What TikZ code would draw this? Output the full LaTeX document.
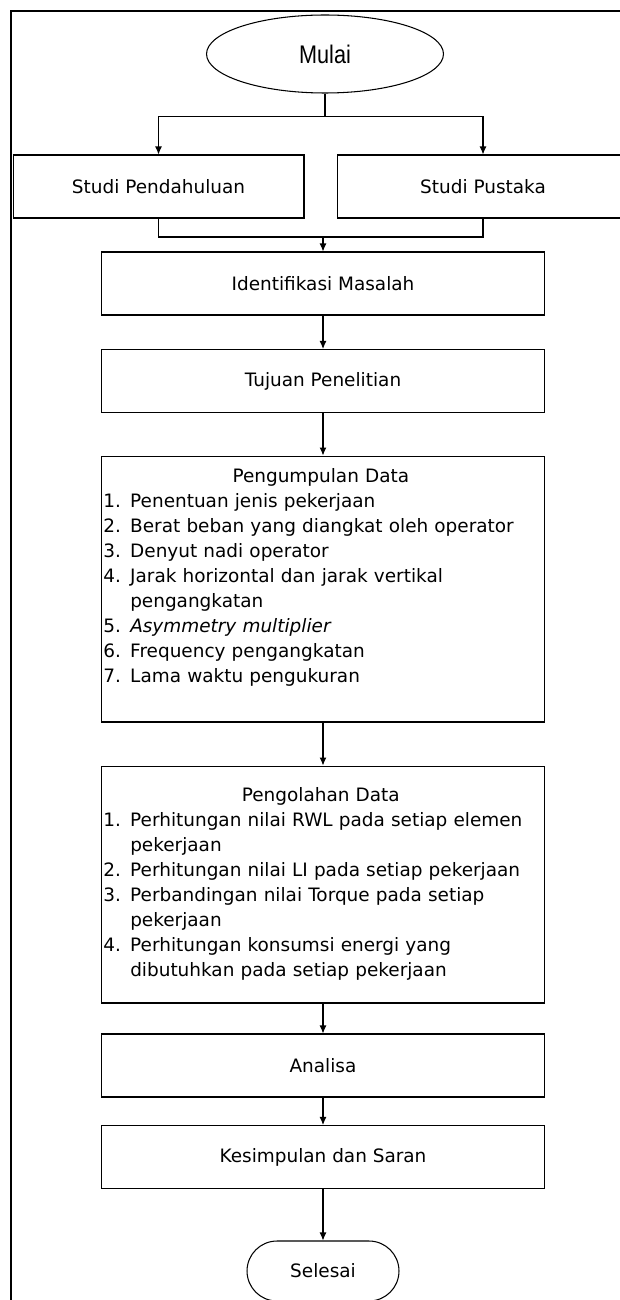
\documentclass[tikz,border=0pt]{standalone}
\usepackage{fontspec}
\setmainfont{DejaVu Sans}
\newfontfamily\mulaifont[FakeStretch=0.85]{Liberation Sans}
\usetikzlibrary{arrows.meta,positioning,shapes.geometric}

\newcommand{\itm}[2]{\makebox[15.3pt][l]{#1}#2}
\newcommand{\cont}[1]{\hspace*{15.3pt}#1}

\begin{document}
\begin{tikzpicture}[>={Latex[length=1.6mm,width=1.4mm]},x=0.02cm,y=-0.02cm,
  font=\fontsize{10.5pt}{14.2pt}\selectfont,
  box/.style={draw,line width=.6pt,minimum width=8.86cm,minimum height=1.26cm,inner sep=0},
  sidebox/.style={box,minimum width=5.82cm},
  list/.style={text width=8.7cm,align=left,inner sep=0},
  link/.style={line width=.6pt},
  arr/.style={->,line width=.6pt}]
\useasboundingbox (0,0) rectangle (619,1300);
\draw[line width=1.2pt] (640,11)--(11,11)--(11,1320);
% start
\node[draw,ellipse,line width=.6pt,minimum width=4.74cm,minimum height=1.56cm,
  font=\mulaifont\fontsize{14.5pt}{16pt}\selectfont] (mulai) at (325,54){Mulai};
\node[sidebox] (pendahuluan) at (158.5,186.5){Studi Pendahuluan};
\node[sidebox] (pustaka) at (483,186.5){Studi Pustaka};
\draw[link] (mulai.south)--++(0,23) coordinate (split);
\draw[arr] (split)-|(pendahuluan);
\draw[arr] (split)-|(pustaka);
\coordinate (merge) at (323,237);
\draw[link] (pendahuluan)|-(merge)-|(pustaka);
% main column
\node[box] (identifikasi) at (323,283.5){Identifikasi Masalah};
\node[box] (tujuan) at (323,381){Tujuan Penelitian};
\node[box,minimum height=5.32cm] (kumpul) at (323,589){};
\node[list,below right=0.26cm and 0.04cm of kumpul.north west] (kumpultxt){%
\makebox[\linewidth]{Pengumpulan Data}\\
\itm{1.}{Penentuan jenis pekerjaan}\\
\itm{2.}{Berat beban yang diangkat oleh operator}\\
\itm{3.}{Denyut nadi operator}\\
\itm{4.}{Jarak horizontal dan jarak vertikal}\\
\cont{pengangkatan}\\
\itm{5.}{\textit{Asymmetry multiplier}}\\
\itm{6.}{Frequency pengangkatan}\\
\itm{7.}{Lama waktu pengukuran}};
\node[box,minimum height=4.74cm] (olah) at (323,884.5){};
\node[list,below right=0.44cm and 0.04cm of olah.north west] (olahtxt){%
\makebox[\linewidth]{Pengolahan Data}\\
\itm{1.}{Perhitungan nilai RWL pada setiap elemen}\\
\cont{pekerjaan}\\
\itm{2.}{Perhitungan nilai LI pada setiap pekerjaan}\\
\itm{3.}{Perbandingan nilai Torque pada setiap}\\
\cont{pekerjaan}\\
\itm{4.}{Perhitungan konsumsi energi yang}\\
\cont{dibutuhkan pada setiap pekerjaan}};
\node[box] (analisa) at (323,1065.5){Analisa};
\node[box] (kesimpulan) at (323,1157){Kesimpulan dan Saran};
\node[draw,line width=.6pt,rounded corners=0.6cm,minimum width=3.04cm,minimum height=1.2cm] (selesai) at (323,1271){Selesai};
\draw[arr] (merge)--(identifikasi);
\draw[arr] (identifikasi)--(tujuan);
\draw[arr] (tujuan)--(kumpul);
\draw[arr] (kumpul)--(olah);
\draw[arr] (olah)--(analisa);
\draw[arr] (analisa)--(kesimpulan);
\draw[arr] (kesimpulan)--(selesai);
\end{tikzpicture}
\end{document}
